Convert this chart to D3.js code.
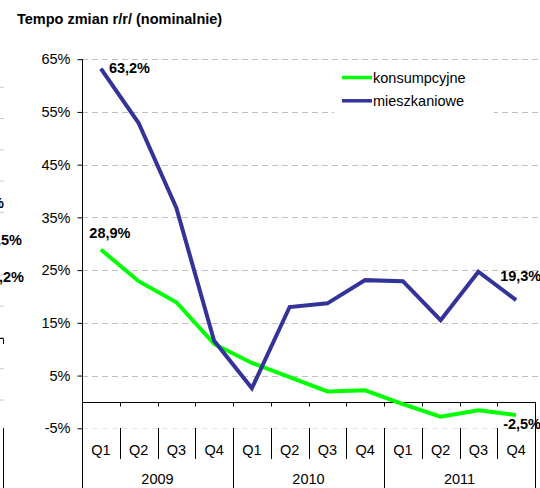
<!DOCTYPE html>
<html>
<head>
<meta charset="utf-8">
<script src="https://cdn.jsdelivr.net/npm/d3@7"></script>
<style>
  html, body { margin: 0; padding: 0; background: #fff; }
  svg { display: block; font-family: "Liberation Sans", Arial, sans-serif; }
</style>
</head>
<body>
<svg id="chart" width="540" height="488"></svg>
<script>
// Data
const quarters = ["Q1", "Q2", "Q3", "Q4", "Q1", "Q2", "Q3", "Q4", "Q1", "Q2", "Q3", "Q4"];
const years = ["2009", "2010", "2011"];
const konsumpcyjne = [28.9, 22.9, 18.9, 11.0, 7.4, 4.7, 2.0, 2.2, -0.4, -2.8, -1.6, -2.5];
const mieszkaniowe = [63.2, 52.9, 36.8, 11.6, 2.6, 18.0, 18.7, 23.1, 22.9, 15.5, 24.7, 19.3];
const yTicks = [65, 55, 45, 35, 25, 15, 5, -5];
const seriesNames = ["konsumpcyjne", "mieszkaniowe"];
const seriesColors = ["#00ff00", "#333399"];

// leftovers of the neighbouring chart, cut off at the left edge
const ghostLabels = ["10,4%", "12,5%", "11,2%"];

const fmt = (v) => v.toFixed(1).replace(".", ",") + "%";

const svg = d3.select("#chart");
const keys = quarters.map((q, i) => i);

// Scales
const x = d3.scaleBand().domain(keys).range([82, 535]);
const y = d3.scaleLinear().domain([-5, 65]).range([428.3, 59.2]);
const ghostY = d3.scaleLinear().domain([0, 10]).range([400, 87.3]);

// Title
svg.append("text")
  .attr("x", 17)
  .attr("y", 24)
  .style("font-size", "14.5px")
  .style("font-weight", "bold")
  .text("Tempo zmian r/r/ (nominalnie)");

// Ghost chart stubs on the left edge
svg.append("g")
  .selectAll("line")
  .data(d3.range(0, 11))
  .enter()
  .append("line")
  .attr("x1", 0)
  .attr("x2", 4)
  .attr("y1", (d) => ghostY(d))
  .attr("y2", (d) => ghostY(d))
  .attr("stroke", "#c8c8c8")
  .attr("stroke-width", 1);

svg.append("g")
  .selectAll("text")
  .data(ghostLabels)
  .enter()
  .append("text")
  .attr("x", (d, i) => [4, 22, 24][i])
  .attr("y", (d, i) => 208 + i * 37)
  .attr("text-anchor", "end")
  .style("font-size", "14.5px")
  .style("font-weight", "bold")
  .text((d) => d);

svg.append("path")
  .attr("d", "M0,338.5H3.5V344")
  .attr("fill", "none")
  .attr("stroke", "#000");

svg.append("line")
  .attr("x1", 3.5).attr("x2", 3.5)
  .attr("y1", 428).attr("y2", 488)
  .attr("stroke", "#000");

// Gridlines
svg.append("g")
  .selectAll("line")
  .data(yTicks)
  .enter()
  .append("line")
  .attr("x1", 82)
  .attr("x2", 540)
  .attr("y1", (d) => Math.round(y(d)) + 0.5)
  .attr("y2", (d) => Math.round(y(d)) + 0.5)
  .attr("stroke", (d) => (d < 0 ? "#e6e6e6" : "#c0c0c0"))
  .attr("stroke-dasharray", "6,4");

// Y axis
const yAxis = svg.append("g")
  .attr("transform", "translate(82.5,0)")
  .call(d3.axisLeft(y).tickValues(yTicks).tickSize(5).tickPadding(7).tickFormat((d) => d + "%"));
yAxis.select(".domain").attr("d", "M-0,59V488");
yAxis.selectAll("text")
  .style("font-size", "14.5px")
  .style("font-family", "'Liberation Sans', Arial, sans-serif")
  .attr("fill", "#000");
yAxis.selectAll(".tick line").attr("stroke", "#000");

// X axis line at zero
const xAxis = svg.append("g").attr("transform", `translate(0,${Math.round(y(0)) + 0.5})`);
xAxis.append("line")
  .attr("x1", 82).attr("x2", 535)
  .attr("stroke", "#000");
xAxis.selectAll(".tk")
  .data(keys.slice(1))
  .enter()
  .append("line")
  .attr("class", "tk")
  .attr("x1", (d) => Math.round(x(d)) + 0.5)
  .attr("x2", (d) => Math.round(x(d)) + 0.5)
  .attr("y1", 0)
  .attr("y2", 4)
  .attr("stroke", "#000");

// right edge of category axis
svg.append("line")
  .attr("x1", 535.5).attr("x2", 535.5)
  .attr("y1", y(0)).attr("y2", 488)
  .attr("stroke", "#000");

// Quarter dividers and labels
svg.append("g")
  .selectAll("line")
  .data(keys.filter((d) => d % 4 !== 0))
  .enter()
  .append("line")
  .attr("x1", (d) => Math.round(x(d)) + 0.5)
  .attr("x2", (d) => Math.round(x(d)) + 0.5)
  .attr("y1", 428)
  .attr("y2", 459)
  .attr("stroke", "#000");

svg.append("g")
  .selectAll("line")
  .data(keys.filter((d) => d % 4 === 0 && d > 0))
  .enter()
  .append("line")
  .attr("x1", (d) => Math.round(x(d)) + 0.5)
  .attr("x2", (d) => Math.round(x(d)) + 0.5)
  .attr("y1", 428)
  .attr("y2", 488)
  .attr("stroke", "#000");

svg.append("g")
  .selectAll("text")
  .data(keys)
  .enter()
  .append("text")
  .attr("x", (d) => x(d) + x.bandwidth() / 2)
  .attr("y", 455)
  .attr("text-anchor", "middle")
  .style("font-size", "14.5px")
  .text((d) => quarters[d]);

svg.append("g")
  .selectAll("text")
  .data(years)
  .enter()
  .append("text")
  .attr("x", (d, i) => (x(i * 4) + x(i * 4 + 3) + x.bandwidth()) / 2)
  .attr("y", 484)
  .attr("text-anchor", "middle")
  .style("font-size", "14.5px")
  .text((d) => d);

// Lines
const line = d3.line()
  .x((d, i) => x(i) + x.bandwidth() / 2)
  .y((d) => y(d));

[konsumpcyjne, mieszkaniowe].forEach((series, s) => {
  svg.append("path")
    .datum(series)
    .attr("d", line)
    .attr("fill", "none")
    .attr("stroke", seriesColors[s])
    .attr("stroke-width", 4)
    .attr("stroke-linejoin", "miter");
});

// Data labels
const cx = (i) => x(i) + x.bandwidth() / 2;
const labels = [
  { v: mieszkaniowe[0], x: cx(0) + 8, y: y(mieszkaniowe[0]) + 4, anchor: "start" },
  { v: konsumpcyjne[0], x: cx(0) + 9, y: y(konsumpcyjne[0]) - 12, anchor: "middle" },
  { v: mieszkaniowe[11], x: cx(11) - 16, y: y(mieszkaniowe[11]) - 19, anchor: "start" },
  { v: konsumpcyjne[11], x: cx(11) - 13, y: y(konsumpcyjne[11]) + 13.5, anchor: "start" },
];
svg.append("g")
  .selectAll("text")
  .data(labels)
  .enter()
  .append("text")
  .attr("x", (d) => d.x)
  .attr("y", (d) => d.y)
  .attr("text-anchor", (d) => d.anchor)
  .style("font-size", "14.5px")
  .style("font-weight", "bold")
  .text((d) => fmt(d.v));

// Legend
const legend = svg.append("g").attr("transform", "translate(342,0)");
legend.append("rect")
  .attr("x", -8).attr("y", 64)
  .attr("width", 160).attr("height", 50)
  .attr("fill", "#fff");
const item = legend.selectAll(".item")
  .data(seriesNames)
  .enter()
  .append("g")
  .attr("class", "item")
  .attr("transform", (d, i) => `translate(0,${77.5 + i * 23.3})`);
item.append("line")
  .attr("x1", 0).attr("x2", 30)
  .attr("stroke", (d, i) => seriesColors[i])
  .attr("stroke-width", 3.5);
item.append("text")
  .attr("x", 31)
  .attr("y", 5)
  .style("font-size", "14.5px")
  .text((d) => d);
</script>
</body>
</html>
